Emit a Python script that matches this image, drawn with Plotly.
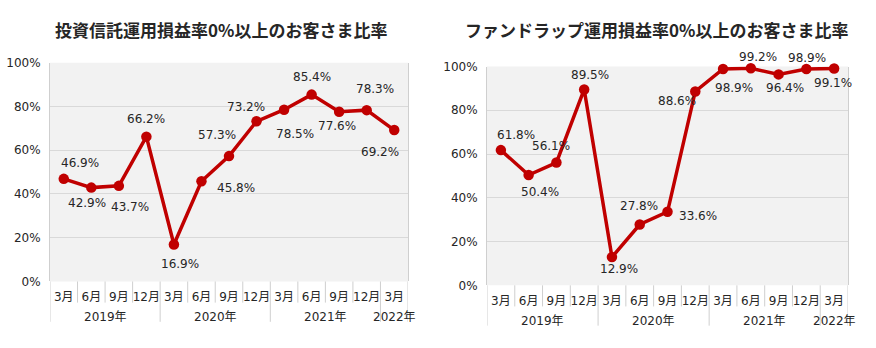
import plotly.graph_objects as go

months = ["3月", "6月", "9月", "12月", "3月", "6月", "9月", "12月", "3月", "6月", "9月", "12月", "3月"]
years = ["2019年", "2020年", "2021年", "2022年"]
year_centers = [1.5, 5.5, 9.5, 12]
year_bounds = [-0.5, 3.5, 7.5, 11.5, 12.5]
y_ticks = [0, 20, 40, 60, 80, 100]
y_ticklabels = ["0%", "20%", "40%", "60%", "80%", "100%"]

title_left = "投資信託運用損益率0%以上のお客さま比率"
title_right = "ファンドラップ運用損益率0%以上のお客さま比率"

fund_values = [46.9, 42.9, 43.7, 66.2, 16.9, 45.8, 57.3, 73.2, 78.5, 85.4, 77.6, 78.3, 69.2]
wrap_values = [61.8, 50.4, 56.1, 89.5, 12.9, 27.8, 33.6, 88.6, 98.9, 99.2, 96.4, 98.9, 99.1]

# label pixel offsets (dx, dy) relative to each point, dy positive = downward
fund_offsets = [(16, -16), (-4, 15), (11, 21), (0, -18), (6, 19), (35, 7), (-12, -21),
                (-11, -14), (11, 24), (0, -18), (-2, 14), (8, -21), (-14, 22)]
wrap_offsets = [(15, -15), (11, 17), (-5, -17), (6, -14), (7, 12), (-1, -18), (30, 4),
                (-18, 10), (11, 19), (7, -11), (6, 14), (1, -11), (-1, 15)]

W, H = 876, 348
FONT = "DejaVu Sans, Noto Sans CJK JP, sans-serif"
TFONT = "Noto Sans CJK JP, sans-serif"
RED = "#c00000"
TXT = "#262626"
GRID = "#d9d9d9"
SEP = "#cfcfcf"

panels = [
    dict(vals=fund_values, offs=fund_offsets, title=title_left, x0=50, x1=408, ytop=58, ybot=286, tx=221, xa="x", ya="y"),
    dict(vals=wrap_values, offs=wrap_offsets, title=title_right, x0=487, x1=848, ytop=62, ybot=290, tx=656, xa="x2", ya="y2"),
]

fig = go.Figure()
annotations = []
shapes = []
layout_axes = {}

for i, p in enumerate(panels):
    sfx = "" if i == 0 else "2"
    xs = list(range(len(months)))
    fig.add_trace(go.Scatter(
        x=xs, y=p["vals"], mode="lines+markers",
        line=dict(color=RED, width=3.5), marker=dict(color=RED, size=10.5),
        xaxis=p["xa"], yaxis=p["ya"], cliponaxis=False, hoverinfo="skip", showlegend=False,
    ))
    layout_axes["xaxis" + sfx] = dict(
        domain=[p["x0"] / W, p["x1"] / W], range=[-0.5, 12.5], anchor=p["ya"],
        tickmode="array", tickvals=xs, ticktext=months, ticks="", showgrid=False,
        zeroline=False, showline=False, tickfont=dict(size=12, color=TXT, family=FONT),
        ticklabelstandoff=7, fixedrange=True,
    )
    layout_axes["yaxis" + sfx] = dict(
        domain=[1 - p["ybot"] / H, 1 - p["ytop"] / H], range=[0, 100], anchor=p["xa"],
        tickmode="array", tickvals=y_ticks, ticktext=y_ticklabels, showgrid=True, gridcolor=GRID,
        gridwidth=1, zeroline=False, showline=True, linecolor=SEP, linewidth=1, mirror=True,
        ticks="", tickfont=dict(size=12, color=TXT, family=FONT), ticklabelstandoff=6,
        fixedrange=True,
    )
    # title
    annotations.append(dict(
        x=p["tx"] / W, y=1 - 23 / H, xref="paper", yref="paper", text="<b>" + p["title"] + "</b>",
        showarrow=False, xanchor="center", yanchor="middle",
        font=dict(size=17, color=TXT, family=TFONT),
    ))
    # data labels
    for xv, yv, (dx, dy) in zip(xs, p["vals"], p["offs"]):
        annotations.append(dict(
            x=xv, y=yv, xref=p["xa"], yref=p["ya"], text=f"{yv:.1f}%", showarrow=False,
            xshift=dx, yshift=-dy, xanchor="center", yanchor="middle",
            font=dict(size=12, color=TXT, family=FONT),
        ))
    # year labels
    for yr, xc in zip(years, year_centers):
        annotations.append(dict(
            x=xc, y=1 - (p["ybot"] + 37) / H, xref=p["xa"], yref="paper", text=yr,
            showarrow=False, xanchor="center", yanchor="middle",
            font=dict(size=12, color=TXT, family=FONT),
        ))
    # separators
    for b in [k - 0.5 for k in range(len(months) + 1)]:
        long = b in year_bounds
        yend = p["ybot"] + (42 if long else 22)
        shapes.append(dict(
            type="line", xref=p["xa"], yref="paper", x0=b, x1=b,
            y0=1 - p["ybot"] / H, y1=1 - yend / H, line=dict(color=SEP, width=1),
        ))
    # plot background
    shapes.append(dict(
        type="rect", xref="paper", yref="paper", x0=p["x0"] / W, x1=p["x1"] / W,
        y0=1 - p["ybot"] / H, y1=1 - p["ytop"] / H, fillcolor="#f2f2f2",
        line=dict(width=0), layer="below",
    ))

fig.update_layout(
    width=W, height=H, margin=dict(l=0, r=0, t=0, b=0),
    paper_bgcolor="white", plot_bgcolor="rgba(0,0,0,0)",
    annotations=annotations, shapes=shapes, **layout_axes,
)

fig.write_html("out.html", config={"displayModeBar": False})
